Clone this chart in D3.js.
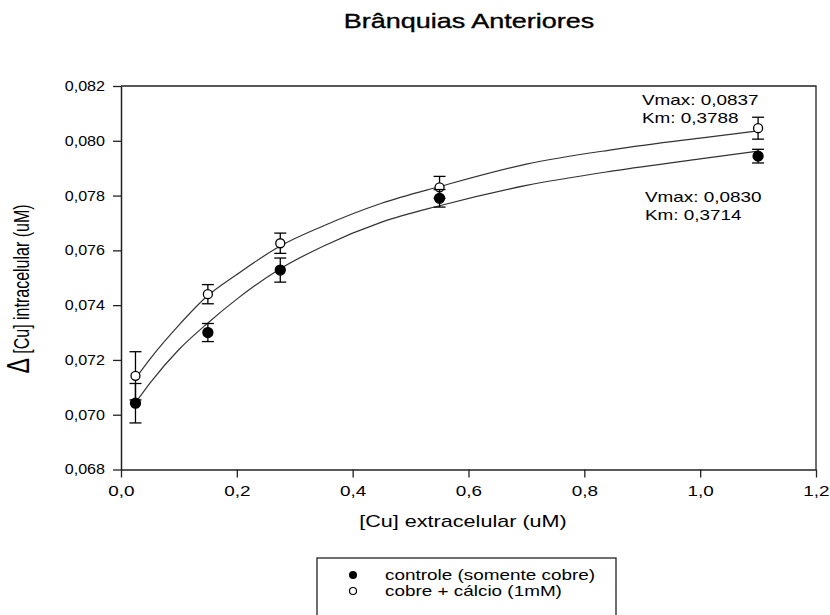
<!DOCTYPE html>
<html>
<head>
<meta charset="utf-8">
<script src="https://cdn.jsdelivr.net/npm/d3@7/dist/d3.min.js"></script>
<style>
  html, body { margin: 0; padding: 0; background: #fff; }
  svg { display: block; }
  text { font-family: "Liberation Sans", Arial, sans-serif; fill: #000; }
</style>
</head>
<body>
<svg id="chart" width="830" height="615"></svg>
<script>
// Extracellular copper concentration (uM)
const concentracao = [0.025, 0.15, 0.275, 0.55, 1.1];

// Series: control (copper only) and copper + calcium (1 mM)
const controle = [0.07042, 0.07300, 0.07528, 0.07790, 0.07944];
const controleErro = [0.00072, 0.00033, 0.00044, 0.00032, 0.00025];
const calcio = [0.07142, 0.07440, 0.07626, 0.07830, 0.08046];
const calcioErro = [0.00088, 0.00035, 0.00037, 0.00040, 0.00040];

// Fitted saturation curves, sampled along x
const curvaX = [0.025, 0.05, 0.1, 0.15, 0.2, 0.275, 0.35, 0.45, 0.55, 0.7, 0.85, 1.0, 1.1];
const curvaControle = [0.07043, 0.07115, 0.07238, 0.07335, 0.07422, 0.07533, 0.07616, 0.07703, 0.07763, 0.07837, 0.07890, 0.07934, 0.07962];
const curvaCalcio = [0.07132, 0.07203, 0.07327, 0.07435, 0.07512, 0.07616, 0.07690, 0.07772, 0.07833, 0.07915, 0.07968, 0.08010, 0.08036];

// Axis ticks
const xTicks = [0, 0.2, 0.4, 0.6, 0.8, 1.0, 1.2];
const yTicks = [0.068, 0.070, 0.072, 0.074, 0.076, 0.078, 0.080, 0.082];

// Fit parameters shown next to each curve
const rotulosCalcio = ["Vmax: 0,0837", "Km: 0,3788"];
const rotulosControle = ["Vmax: 0,0830", "Km: 0,3714"];
const legenda = ["controle (somente cobre)", "cobre + cálcio (1mM)"];

const SX = 1.35;   // horizontal glyph stretch used for labels
const SXY = 1.15;  // stretch for the y tick labels

const svg = d3.select("#chart");
const plot = { left: 121, right: 816, top: 86, bottom: 469.5 };

const x = d3.scaleLinear().domain([0, 1.2]).range([plot.left, plot.right]);
const y = d3.scaleLinear().domain([0.068, 0.082]).range([plot.bottom, plot.top]);

const virgula = d => d.toString().replace(".", ",");
const fmtX = d => virgula(d3.format(".1f")(d));
const fmtY = d => virgula(d3.format(".3f")(d));

// Stretched text helper
function label(g, txt, px, py, size, anchor) {
  return g.append("text")
    .attr("transform", `translate(${px},${py}) scale(${SX},1)`)
    .attr("text-anchor", anchor || "start")
    .style("font-size", size + "px")
    .text(txt);
}

// Frame (top and right edges)
svg.append("path")
  .attr("d", `M${plot.left},${plot.top}H${plot.right}V${plot.bottom}`)
  .attr("fill", "none").attr("stroke", "#222").attr("stroke-width", 1.3);

// X axis
const gx = svg.append("g")
  .attr("transform", `translate(0,${plot.bottom})`)
  .call(d3.axisBottom(x).tickValues(xTicks).tickFormat(fmtX).tickSize(8).tickSizeOuter(0).tickPadding(6));
gx.select(".domain").attr("stroke", "#222").attr("stroke-width", 1.5);
gx.selectAll(".tick line").attr("stroke", "#222").attr("stroke-width", 1.3);
gx.selectAll(".tick text")
  .attr("transform", `scale(${SX},1)`)
  .attr("y", 17)
  .attr("dy", "0.71em")
  .style("font-size", "14px").style("font-family", "'Liberation Sans', Arial, sans-serif");

// Y axis
const gy = svg.append("g")
  .attr("transform", `translate(${plot.left},0)`)
  .call(d3.axisLeft(y).tickValues(yTicks).tickFormat(fmtY).tickSize(8).tickSizeOuter(0));
gy.select(".domain").attr("stroke", "#222").attr("stroke-width", 1.5);
gy.selectAll(".tick line").attr("stroke", "#222").attr("stroke-width", 1.3);
gy.selectAll(".tick text")
  .attr("transform", `scale(${SXY},1)`)
  .attr("x", -16 / SXY)
  .style("font-size", "14px").style("font-family", "'Liberation Sans', Arial, sans-serif");

// Title
label(svg, "Brânquias Anteriores", 469, 28, 20, "middle")
  .attr("stroke", "#000").attr("stroke-width", 0.35);

// X axis title
label(svg, "[Cu] extracelular (uM)", 463, 527, 16, "middle");

// Y axis title (rotated, stretched across the screen x direction)
const yt = svg.append("text")
  .attr("transform", `translate(29,289) rotate(-90) scale(1,${SX})`)
  .attr("text-anchor", "middle")
  .style("font-size", "16px");
yt.append("tspan").style("font-size", "23px").text("Δ");
yt.append("tspan").text(" [Cu] intracelular (uM)");

// Fitted curves
const linha = d3.line().x(d => x(d[0])).y(d => y(d[1])).curve(d3.curveMonotoneX);
[curvaCalcio, curvaControle].forEach(c => {
  svg.append("path")
    .datum(curvaX.map((cx, i) => [cx, c[i]]))
    .attr("d", linha)
    .attr("fill", "none").attr("stroke", "#333").attr("stroke-width", 1.2);
});

// Error bars and markers
function serie(vals, errs, filled) {
  const g = svg.append("g");
  const pts = concentracao.map((c, i) => ({ c, v: vals[i], e: errs[i] }));
  const eb = g.selectAll("g.eb").data(pts).join("g").attr("class", "eb")
    .attr("stroke", "#000").attr("stroke-width", 1.3);
  eb.append("line")
    .attr("x1", d => x(d.c)).attr("x2", d => x(d.c))
    .attr("y1", d => y(d.v + d.e)).attr("y2", d => y(d.v - d.e));
  [1, -1].forEach(s => {
    eb.append("line")
      .attr("x1", d => x(d.c) - 6).attr("x2", d => x(d.c) + 6)
      .attr("y1", d => y(d.v + s * d.e)).attr("y2", d => y(d.v + s * d.e));
  });
  g.selectAll("circle").data(pts).join("circle")
    .attr("cx", d => x(d.c)).attr("cy", d => y(d.v))
    .attr("r", filled ? 5 : 4.5)
    .attr("fill", filled ? "#000" : "#fff")
    .attr("stroke", "#000").attr("stroke-width", 1.3);
}
serie(calcio, calcioErro, false);
serie(controle, controleErro, true);

// Fit parameter annotations
rotulosCalcio.forEach((t, i) => label(svg, t, 642, 105 + i * 18, 14));
rotulosControle.forEach((t, i) => label(svg, t, 645, 202 + i * 17.5, 14));

// Legend
const lg = svg.append("g");
lg.append("rect")
  .attr("x", 317).attr("y", 558).attr("width", 299).attr("height", 70)
  .attr("fill", "#fff").attr("stroke", "#222").attr("stroke-width", 1.3);
lg.append("circle").attr("cx", 353).attr("cy", 575).attr("r", 4).attr("fill", "#000");
lg.append("circle").attr("cx", 353).attr("cy", 591).attr("r", 3.5)
  .attr("fill", "#fff").attr("stroke", "#000").attr("stroke-width", 1.2);
legenda.forEach((t, i) => label(lg, t, 385, 580 + i * 16, 14));
</script>
</body>
</html>
